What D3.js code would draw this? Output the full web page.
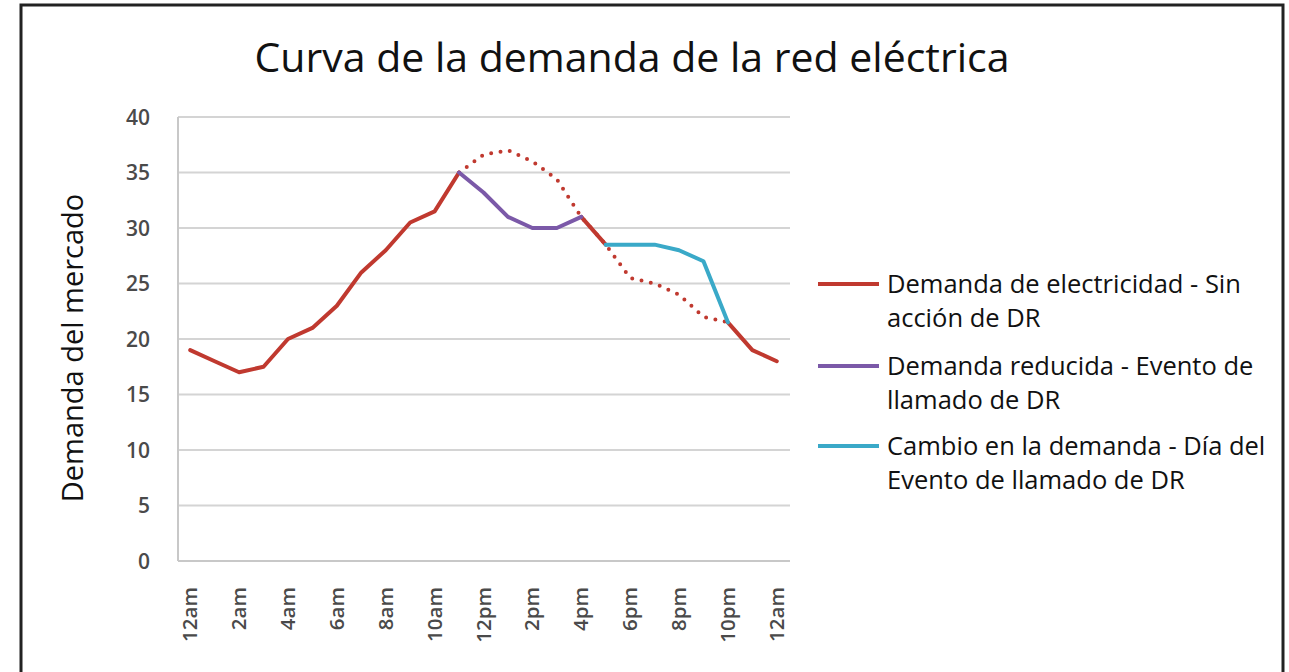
<!DOCTYPE html>
<html>
<head>
<meta charset="utf-8">
<script src="https://cdn.jsdelivr.net/npm/d3@7"></script>
<style>
  html, body { margin: 0; padding: 0; background: #fff; }
  svg { display: block; }
  text { font-family: "Open Sans", "Noto Sans", sans-serif; }
</style>
</head>
<body>
<svg id="chart" width="1289" height="672"></svg>
<script>
// hours of the day, one category per hour
var hours = d3.range(0, 25)
var hourLabels = ['12am', '2am', '4am', '6am', '8am', '10am', '12pm', '2pm', '4pm', '6pm', '8pm', '10pm', '12am']
var yTicks = [0, 5, 10, 15, 20, 25, 30, 35, 40]

// demand without DR (solid parts)
var baseMorning = [19, 18, 17, 17.5, 20, 21, 23, 26, 28, 30.5, 31.5, 35]          // h0..h11
var baseAfternoon = [31, 28.5]                                                    // h16..h17
var baseNight = [21.5, 19, 18]                                                    // h22..h24
// demand without DR during the event (dotted)
var baseDotted = [35, 36.6, 37, 36, 34.4, 31, 28.5, 25.5, 25, 24, 22, 21.5]        // h11..h22
// reduced demand during the DR call
var reduced = [35, 33.2, 31, 30, 30, 31]                                          // h11..h16
// shifted demand on the DR day
var shifted = [28.5, 28.5, 28.5, 28, 27, 21.5]                                    // h17..h22

var legendItems = [
  { color: '#c0392f', lines: ['Demanda de electricidad - Sin', 'acción de DR'] },
  { color: '#7b59a8', lines: ['Demanda reducida - Evento de', 'llamado de DR'] },
  { color: '#3aa9c8', lines: ['Cambio en la demanda - Día del', 'Evento de llamado de DR'] }
]

var svg = d3.select('#chart')

// outer frame
svg.append('rect')
  .attr('x', 21).attr('y', 5)
  .attr('width', 1262).attr('height', 720)
  .style('fill', 'none')
  .style('stroke', '#222')
  .style('stroke-width', 3)

svg.append('text')
  .attr('x', 632).attr('y', 72)
  .attr('text-anchor', 'middle')
  .style('font-size', '41px')
  .style('font-weight', 500)
  .style('fill', '#111')
  .text('Curva de la demanda de la red eléctrica')

var x = d3.scaleBand().domain(hours).range([178, 789])
var y = d3.scaleLinear().domain([0, 40]).range([561, 117])
var cx = function (h) { return x(h) + x.bandwidth() / 2 }

// gridlines
svg.append('g').selectAll('line')
  .data(yTicks.filter(function (d) { return d > 0 }))
  .join('line')
  .attr('x1', 178).attr('x2', 790)
  .attr('y1', function (d) { return y(d) }).attr('y2', function (d) { return y(d) })
  .style('stroke', '#d4d4d4')
  .style('stroke-width', 2)

// axes lines
svg.append('line')
  .attr('x1', 178).attr('x2', 178).attr('y1', y(40)).attr('y2', y(0))
  .style('stroke', '#c8c8c8').style('stroke-width', 2)
svg.append('line')
  .attr('x1', 178).attr('x2', 790).attr('y1', y(0)).attr('y2', y(0))
  .style('stroke', '#c8c8c8').style('stroke-width', 2)

// y tick labels
svg.append('g').selectAll('text')
  .data(yTicks)
  .join('text')
  .attr('x', 150)
  .attr('y', function (d) { return y(d) })
  .attr('dy', '0.36em')
  .attr('text-anchor', 'end')
  .style('font-size', '21px')
  .style('font-weight', 600)
  .style('fill', '#4a4a4a')
  .text(function (d) { return d })

// x tick labels, every 2 hours
svg.append('g').selectAll('text')
  .data(hourLabels)
  .join('text')
  .attr('transform', function (d, i) { return 'translate(' + (cx(i * 2) + 7) + ',587) rotate(-90)' })
  .attr('text-anchor', 'end')
  .style('font-size', '20.5px')
  .style('font-weight', 600)
  .style('fill', '#4a4a4a')
  .text(function (d) { return d })

svg.append('text')
  .attr('transform', 'translate(83,348) rotate(-90)')
  .attr('text-anchor', 'middle')
  .style('font-size', '29px')
  .style('font-weight', 500)
  .style('fill', '#111')
  .text('Demanda del mercado')

var line = d3.line()
  .x(function (d) { return cx(d.h) })
  .y(function (d) { return y(d.v) })

function pts (vals, start) {
  return vals.map(function (v, i) { return { h: start + i, v: v } })
}

function drawLine (data, color, dotted) {
  var p = svg.append('path')
    .datum(data)
    .attr('d', line)
    .style('fill', 'none')
    .style('stroke', color)
    .style('stroke-width', 4)
    .style('stroke-linejoin', 'round')
    .style('stroke-linecap', 'round')
  if (dotted) p.style('stroke-dasharray', '0 9.5')
}

drawLine(pts(baseDotted, 11), '#c0392f', true)
drawLine(pts(baseMorning, 0), '#c0392f')
drawLine(pts(baseAfternoon, 16), '#c0392f')
drawLine(pts(baseNight, 22), '#c0392f')
drawLine(pts(reduced, 11), '#7b59a8')
drawLine(pts(shifted, 17), '#3aa9c8')

// legend
var legendY = [284, 366, 446]
var lg = svg.append('g').selectAll('g')
  .data(legendItems)
  .join('g')
  .attr('transform', function (d, i) { return 'translate(0,' + legendY[i] + ')' })

lg.append('line')
  .attr('x1', 818).attr('x2', 879)
  .attr('y1', 0).attr('y2', 0)
  .style('stroke', function (d) { return d.color })
  .style('stroke-width', 4)

lg.append('text')
  .attr('x', 887)
  .style('font-size', '25.5px')
  .style('font-weight', 500)
  .style('fill', '#111')
  .selectAll('tspan')
  .data(function (d) { return d.lines })
  .join('tspan')
  .attr('x', 887)
  .attr('y', function (d, i) { return i * 34 })
  .attr('dy', '0.36em')
  .text(function (d) { return d })
</script>
</body>
</html>
